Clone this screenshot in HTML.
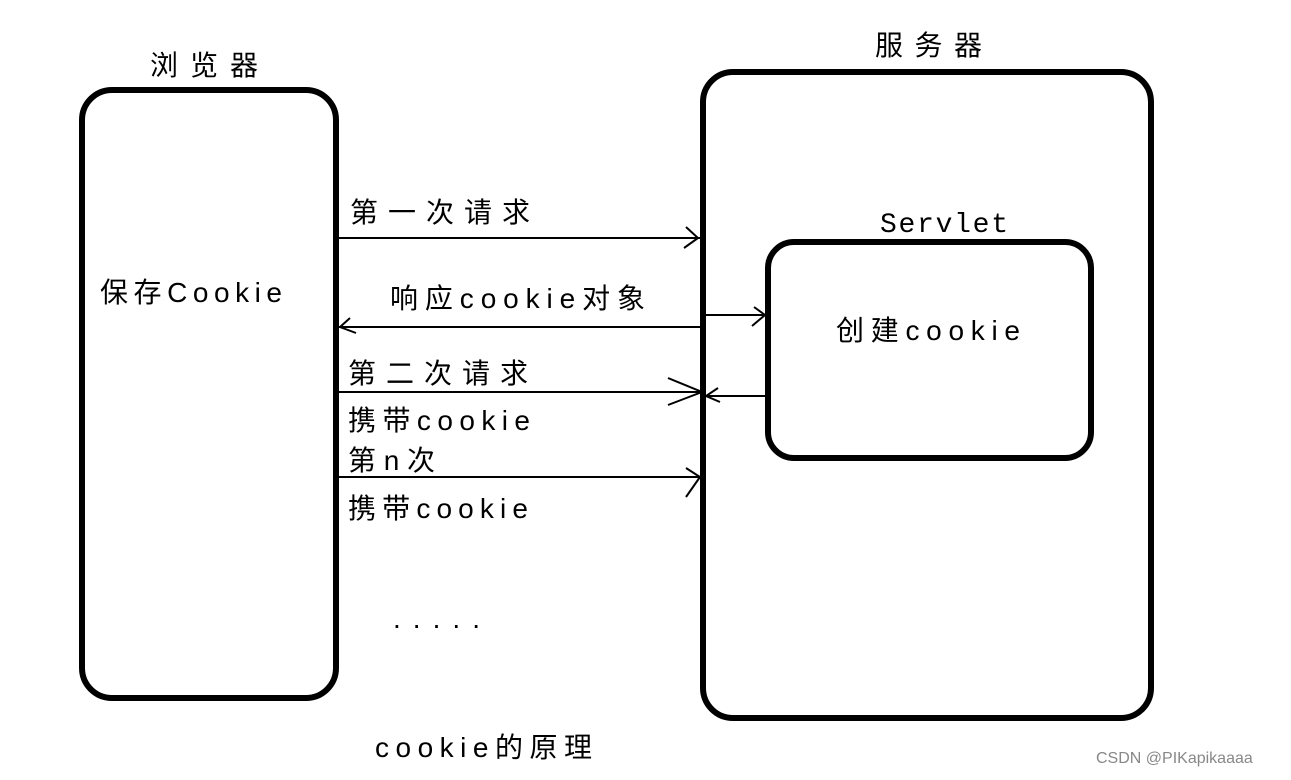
<!DOCTYPE html>
<html><head><meta charset="utf-8"><style>
body{margin:0;background:#fff}
text{font-family:"Liberation Sans","Noto Sans CJK SC",sans-serif;font-size:28px;fill:#000}
</style></head><body>
<svg width="1291" height="775" viewBox="0 0 1291 775" xmlns="http://www.w3.org/2000/svg">
<g fill="none" stroke="#000">
<rect x="82" y="90" width="254" height="608" rx="30" stroke-width="6"/>
<rect x="703" y="72" width="448" height="646" rx="30" stroke-width="6"/>
<rect x="768" y="242" width="323" height="216" rx="26" stroke-width="6"/>
<g stroke-width="2">
<line x1="338" y1="238" x2="701" y2="238"/>
<path d="M686 227 L698 238 L684 248"/>
<line x1="338" y1="327" x2="701" y2="327"/>
<path d="M350 318 L340 327 L356 333"/>
<line x1="704" y1="315" x2="766" y2="315"/>
<path d="M754 307 L765 315 L752 326"/>
<line x1="338" y1="392" x2="701" y2="392"/>
<path d="M668 378 L702 392 L668 405"/>
<line x1="704" y1="396" x2="766" y2="396"/>
<path d="M718 388 L706 396 L720 402"/>
<line x1="338" y1="477" x2="701" y2="477"/>
<path d="M686 468 L700 477 L686 497"/>
</g>
</g>
<g lengthAdjust="spacing">
<text x="150" y="75" textLength="108" lengthAdjust="spacing">浏览器</text>
<text x="875" y="55" textLength="107" lengthAdjust="spacing">服务器</text>
<text x="100" y="302" textLength="182" lengthAdjust="spacing">保存Cookie</text>
<text x="880" y="232" textLength="128" lengthAdjust="spacing" style="font-family:'Liberation Mono',monospace">Servlet</text>
<text x="836" y="340" textLength="184" lengthAdjust="spacing">创建cookie</text>
<text x="350" y="222" textLength="180" lengthAdjust="spacing">第一次请求</text>
<text x="390" y="308" textLength="255" lengthAdjust="spacing">响应cookie对象</text>
<text x="348" y="383" textLength="180" lengthAdjust="spacing">第二次请求</text>
<text x="348" y="430" textLength="182" lengthAdjust="spacing">携带cookie</text>
<text x="348" y="470" textLength="87" lengthAdjust="spacing">第n次</text>
<text x="348" y="518" textLength="180" lengthAdjust="spacing">携带cookie</text>
<text x="393" y="628" textLength="87" lengthAdjust="spacing">.....</text>
<text x="375" y="757" textLength="217" lengthAdjust="spacing">cookie的原理</text>
</g>
<text x="1096" y="763" style="font-size:16px;fill:#888">CSDN @PIKapikaaaa</text>
</svg>
</body></html>
